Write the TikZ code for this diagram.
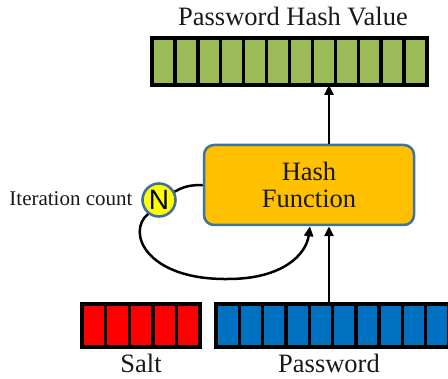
\documentclass[tikz,border=0pt]{standalone}
\usepackage{fontspec}
\setmainfont{Liberation Serif}
\newfontfamily\bt{Liberation Serif}
\newfontfamily\ns{Liberation Sans}
\usetikzlibrary{arrows.meta,calc}
\definecolor{cgreen}{HTML}{9BBB59}
\definecolor{cred}{HTML}{FF0000}
\definecolor{cblue}{HTML}{0070C0}
\definecolor{corange}{HTML}{FFC000}
\definecolor{cyellow}{HTML}{FFFF00}
\definecolor{cedge}{HTML}{41719C}
\tikzset{
  cell/.style={draw=black, line width=3.4pt},
  bar/.style={inner sep=0pt, outer sep=0pt, anchor=north west},
  lbl/.style={font=\bt\fontsize{26.5}{30}\selectfont, text=black!90, anchor=base},
  arr/.style={draw=black, line width=2.5pt, -{Triangle[length=10pt,width=9pt]}},
  loop/.style={draw=black, line width=2.5pt},
  hashbox/.style={draw=cedge, line width=2.5pt, fill=corange, rounded corners=10pt,
    minimum width=210pt, minimum height=80pt, align=center, text=black!90,
    font=\bt\fontsize{26.5}{27}\selectfont},
  ncirc/.style={circle, draw=cedge, line width=2.6pt, fill=cyellow, minimum size=33pt,
    inner sep=0pt, font=\ns\fontsize{28}{28}\selectfont},
}
\begin{document}
\begin{tikzpicture}[x=1pt,y=-1pt]
\useasboundingbox (0,0) rectangle (448,379);
\begin{scope}
\clip (0,0) rectangle (448,379);
% title
\node[lbl] (title) at (293,26) {Password Hash Value};
% green hash value bar
\node[bar, minimum width=275pt, minimum height=47pt] (hv) at (152,38) {};
\foreach \i in {0,...,11}
  \draw[cell, fill=cgreen] ({152+\i*275/12},38) rectangle ({152+(\i+1)*275/12},85);
% hash function
\node[hashbox] (hf) at (309,185) {Hash\\Function};
% iteration counter
\node[ncirc] (n) at (159,200) {N};
\node[font=\fontsize{21}{24}\selectfont, text=black!90, anchor=base east] (it) at (136,206) {Iteration count};
% salt bar
\node[bar, minimum width=118pt, minimum height=43pt] (salt) at (82,304) {};
\foreach \i in {0,...,4}
  \draw[cell, fill=cred] ({82+\i*118/5},304) rectangle ({82+(\i+1)*118/5},347);
% password bar
\node[bar, minimum width=256pt, minimum height=43pt] (pw) at (216,304) {};
\foreach \i in {0,...,10}
  \draw[cell, fill=cblue] ({216+\i*23.3},304) rectangle ({216+(\i+1)*23.3},347);
\node[lbl] (saltl) at (141,373) {Salt};
\node[lbl] (pwl) at (329,373) {Password};
% connectors
\coordinate (ax) at (329,0);
\coordinate (lx) at (310,0);
\draw[arr] (hf.north -| ax) -- (hv.south -| ax);
\draw[arr] (pw.north -| ax) -- (hf.south -| ax);
\draw[loop] (hf.west) to[out=180, in=30] (n.28);
\draw[arr] (n.232) .. controls (126,232) and (146,280) .. (228,279)
  .. controls (282,279) and (306,255) .. (hf.south -| lx);
\end{scope}
\end{tikzpicture}
\end{document}
